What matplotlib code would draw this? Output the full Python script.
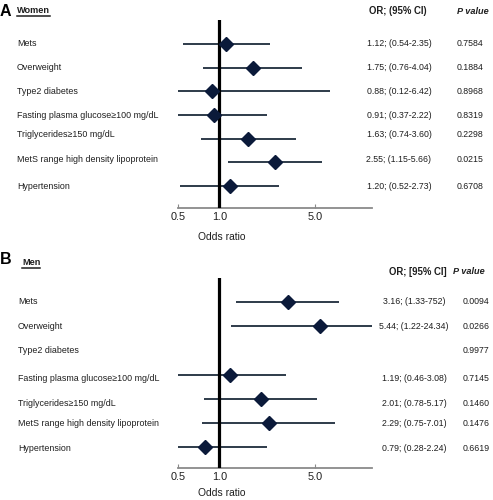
import numpy as np
import matplotlib
matplotlib.use("Agg")
import matplotlib.pyplot as plt
from matplotlib.transforms import blended_transform_factory
from matplotlib.lines import Line2D

plt.rcParams['font.family'] = ['Liberation Sans', 'DejaVu Sans']

labels = ["Mets", "Overweight", "Type2 diabetes", "Fasting plasma glucose\u2265100 mg/dL",
          "Triglycerides\u2265150 mg/dL", "MetS range high density lipoprotein", "Hypertension"]

# women
women_or = [1.12, 1.75, 0.88, 0.91, 1.63, 2.55, 1.20]
women_lo = [0.54, 0.76, 0.12, 0.37, 0.74, 1.15, 0.52]
women_hi = [2.35, 4.04, 6.42, 2.22, 3.60, 5.66, 2.73]
women_ci_text = ["1.12; (0.54-2.35)", "1.75; (0.76-4.04)", "0.88; (0.12-6.42)", "0.91; (0.37-2.22)",
                 "1.63; (0.74-3.60)", "2.55; (1.15-5.66)", "1.20; (0.52-2.73)"]
women_p = ["0.7584", "0.1884", "0.8968", "0.8319", "0.2298", "0.0215", "0.6708"]

# men (type2 diabetes has no estimate)
men_or = [3.16, 5.44, np.nan, 1.19, 2.01, 2.29, 0.79]
men_lo = [1.33, 1.22, np.nan, 0.46, 0.78, 0.75, 0.28]
men_hi = [7.52, 24.34, np.nan, 3.08, 5.17, 7.01, 2.24]
men_ci_text = ["3.16; (1.33-752)", "5.44; (1.22-24.34)", "", "1.19; (0.46-3.08)",
               "2.01; (0.78-5.17)", "2.29; (0.75-7.01)", "0.79; (0.28-2.24)"]
men_p = ["0.0094", "0.0266", "0.9977", "0.7145", "0.1460", "0.1476", "0.6619"]

xticks = [0.5, 1.0, 5.0]
xtick_labels = ["0.5", "1.0", "5.0"]

W, H = 493, 500
fig = plt.figure(figsize=(W / 100, H / 100), dpi=100)

def fx(px):
    return px / W

def fy(py):
    return 1 - py / H

txt_color = "#1e1e1e"
line_color = "#2e3b4a"
marker_color = "#0b1a3a"


def panel(top, bottom, first_y, step, data, layout):
    orv, lo, hi, ci_text, pv = data
    ax = fig.add_axes([fx(178), fy(bottom), fx(372) - fx(178), fy(top) - fy(bottom)])
    ax.set_xscale("log")
    ax.set_xlim(0.5, 13.0)
    ax.set_ylim((bottom - first_y) / step, (top - first_y) / step)
    for sp in ["top", "right", "left"]:
        ax.spines[sp].set_visible(False)
    ax.spines["bottom"].set_color("#8a8a8a")
    ax.spines["bottom"].set_linewidth(1.3)
    ax.set_yticks([])
    ax.set_xticks(xticks)
    ax.set_xticklabels(xtick_labels, fontsize=7.8, color=txt_color)
    ax.xaxis.set_minor_locator(plt.NullLocator())
    ax.tick_params(axis="x", direction="in", length=3, color="#8a8a8a", pad=3)
    ax.axvline(1.0, color="black", lw=2.3, zorder=3)
    rows = np.arange(len(labels))
    ax.hlines(rows, lo, hi, color=line_color, lw=1.4, zorder=2)
    ax.plot(orv, rows, "D", color=marker_color, ms=7.5, zorder=4)

    tr = blended_transform_factory(fig.transFigure, ax.transData)
    lab_x, ci_x, p_x, offs = layout
    for i in rows:
        yy = i + offs[i]
        ax.text(fx(lab_x), yy, labels[i], transform=tr, fontsize=6.4, color=txt_color,
                va="center", ha="left")
        ax.text(fx(ci_x), yy, ci_text[i], transform=tr, fontsize=6.3, color=txt_color,
                va="center", ha="center")
        ax.text(fx(p_x), yy, pv[i], transform=tr, fontsize=6.3, color=txt_color,
                va="center", ha="left")
    return ax


ax_a = panel(20, 208, 44, 23.7, (women_or, women_lo, women_hi, women_ci_text, women_p),
             (17, 399, 457, [0, 0, 0, 0, -0.17, -0.13, 0]))
ax_b = panel(278, 468, 302, 24.2, (men_or, men_lo, men_hi, men_ci_text, men_p),
             (18, 414, 463, [0, 0, 0, 0.15, 0.2, 0, 0.05]))

# headers
fig.text(fx(398), fy(11), "OR; (95% CI)", fontsize=6.9, fontweight="bold", color=txt_color,
         ha="center", va="center")
fig.text(fx(457), fy(11), "P value", fontsize=6.6, fontweight="bold", style="italic",
         color=txt_color, ha="left", va="center")
fig.text(fx(418), fy(272), "OR; [95% CI]", fontsize=6.9, fontweight="bold", color=txt_color,
         ha="center", va="center")
fig.text(fx(453), fy(272), "P value", fontsize=6.6, fontweight="bold", style="italic",
         color=txt_color, ha="left", va="center")

fig.text(fx(222), fy(237), "Odds ratio", fontsize=7.4, color=txt_color, ha="center", va="center")
fig.text(fx(222), fy(493), "Odds ratio", fontsize=7.4, color=txt_color, ha="center", va="center")

# panel letters and underlined titles
fig.text(fx(0), fy(11), "A", fontsize=11.5, fontweight="bold", color="black", ha="left", va="center")
fig.text(fx(0), fy(260), "B", fontsize=11.5, fontweight="bold", color="black", ha="left", va="center")
t_w = fig.text(fx(17), fy(13), "Women", fontsize=6.6, fontweight="bold", color=txt_color,
               ha="left", va="baseline")
t_m = fig.text(fx(22), fy(265), "Men", fontsize=6.6, fontweight="bold", color=txt_color,
               ha="left", va="baseline")

fig.canvas.draw()
r = fig.canvas.get_renderer()
for t in (t_w, t_m):
    bb = t.get_window_extent(r).transformed(fig.transFigure.inverted())
    y_line = t.get_position()[1] - 3.0 / H
    fig.add_artist(Line2D([bb.x0, bb.x1], [y_line, y_line], color=txt_color, lw=1.1,
                          transform=fig.transFigure))

fig.savefig("out.png", dpi=100, facecolor="white")
